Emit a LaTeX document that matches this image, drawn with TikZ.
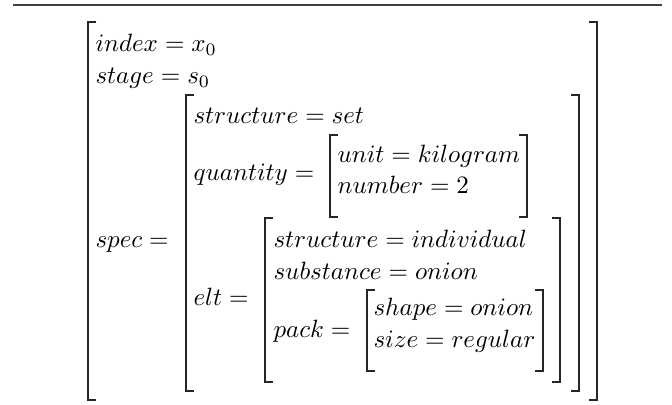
\documentclass[tikz,border=0pt]{standalone}
\begin{document}
\begin{tikzpicture}[x=0.4pt,y=-0.4pt,
  brk/.style={line width=0.8pt,color=black!85,line join=miter},
  rule/.style={line width=0.6pt,color=black!75},
  lbl/.style={anchor=base west,inner sep=0pt,font=\fontsize{10}{12}\selectfont}]
\useasboundingbox (0,0) rectangle (672,405);
\draw[rule] (13,5) -- (662,5);
% outer matrix
\draw[brk] (96,22) -- (88,22) -- (88,400) -- (96,400);
\draw[brk] (589,22) -- (597,22) -- (597,400) -- (589,400);
\node[lbl] (index) at (95,52) {$index = x_0$};
\node[lbl] (stage) at (95,84) {$stage = s_0$};
\node[lbl] (spec) at (95,248) {$spec =$};
% spec matrix
\draw[brk] (194,95) -- (186,95) -- (186,391) -- (194,391);
\draw[brk] (571,95) -- (579,95) -- (579,391) -- (571,391);
\node[lbl] (struct1) at (193,124) {$structure = set$};
\node[lbl] (quantity) at (193,181) {$quantity =$};
\node[lbl] (elt) at (193,305) {$elt =$};
% quantity matrix
\draw[brk] (338,135) -- (330,135) -- (330,217) -- (338,217);
\draw[brk] (519,135) -- (527,135) -- (527,217) -- (519,217);
\node[lbl] (unit) at (337,163) {$unit = kilogram$};
\node[lbl] (number) at (337,194) {$number = 2$};
% elt matrix
\draw[brk] (273,218) -- (265,218) -- (265,382) -- (273,382);
\draw[brk] (552,218) -- (560,218) -- (560,382) -- (552,382);
\node[lbl] (struct2) at (273,248) {$structure = individual$};
\node[lbl] (subst) at (273,279) {$substance = onion$};
\node[lbl] (pack) at (273,337) {$pack =$};
% pack matrix
\draw[brk] (375,290) -- (367,290) -- (367,371) -- (375,371);
\draw[brk] (535,290) -- (543,290) -- (543,371) -- (535,371);
\node[lbl] (shape) at (373,316) {$shape = onion$};
\node[lbl] (size) at (373,347) {$size = regular$};
\end{tikzpicture}
\end{document}
